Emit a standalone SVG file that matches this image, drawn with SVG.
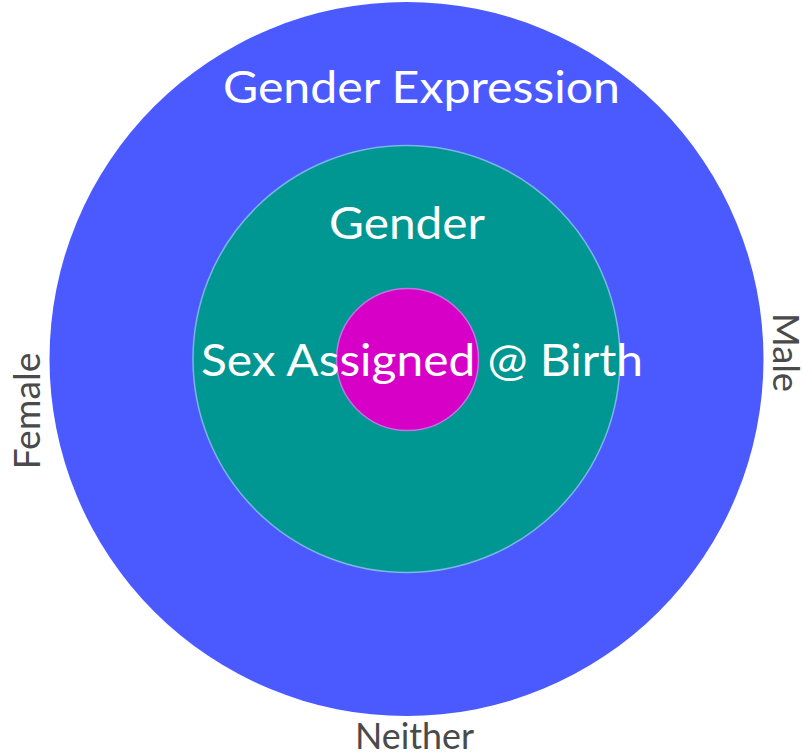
<svg xmlns="http://www.w3.org/2000/svg" width="803" height="755" viewBox="0 0 803 755">
<style>
.w{fill:#ffffff;font-family:Lato,"Open Sans","Liberation Sans",sans-serif;font-size:44px;text-anchor:middle}
.g{fill:#4a4a4a;font-family:Lato,"Open Sans","Liberation Sans",sans-serif;font-size:37px;text-anchor:middle}
</style>
<rect width="803" height="755" fill="#ffffff"/>
<g id="outer"><circle cx="406.5" cy="359" r="357" fill="#4a5aff"/></g>
<g id="middle"><circle cx="406.5" cy="359" r="213.5" fill="#009691" stroke="#7ab6e6" stroke-width="1.5"/></g>
<g id="inner"><circle cx="407.5" cy="359.5" r="71" fill="#d600c6" stroke="#b878e0" stroke-width="1.5"/></g>
<g id="labels">
<text class="w" x="421.5" y="103" textLength="397" lengthAdjust="spacingAndGlyphs">Gender Expression</text>
<text class="w" x="407" y="239" textLength="156" lengthAdjust="spacingAndGlyphs">Gender</text>
<text class="w" x="422" y="376" textLength="442" lengthAdjust="spacingAndGlyphs">Sex Assigned @ Birth</text>
<text class="g" x="414.5" y="749" textLength="119" lengthAdjust="spacingAndGlyphs">Neither</text>
<text class="g" transform="translate(40,411) rotate(-90)" x="0" y="0" textLength="117" lengthAdjust="spacingAndGlyphs">Female</text>
<text class="g" transform="translate(773,352.5) rotate(90)" x="0" y="0" textLength="79" lengthAdjust="spacingAndGlyphs">Male</text>
</g>
</svg>
